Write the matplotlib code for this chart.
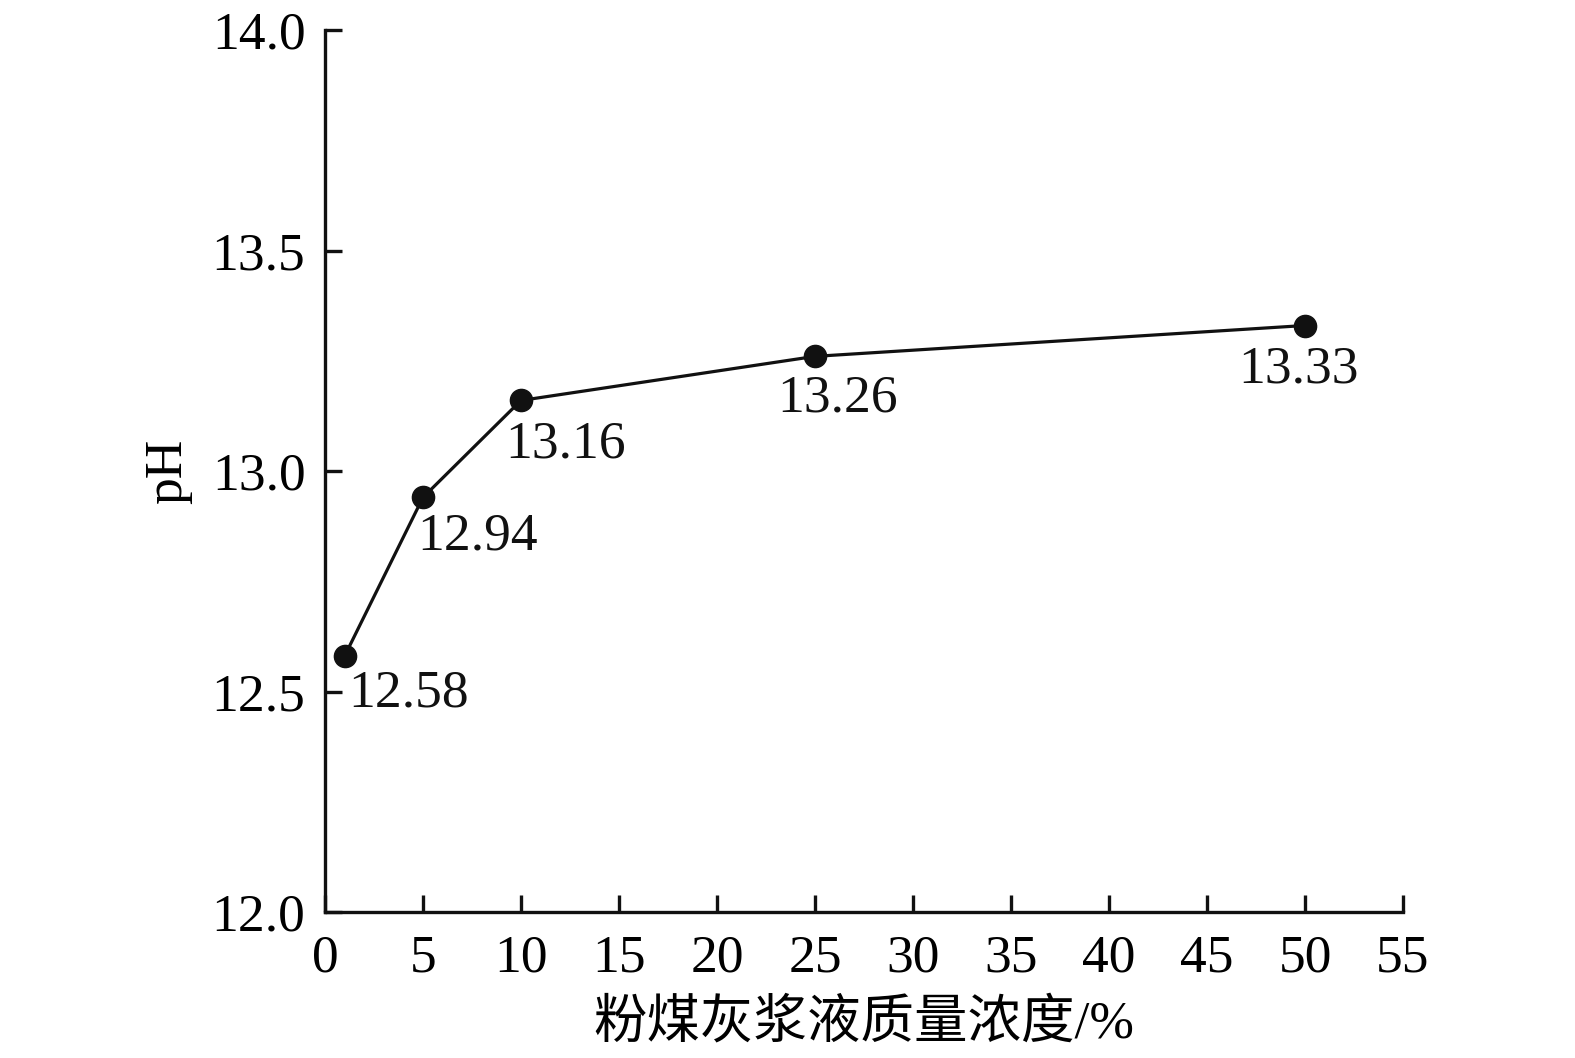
import matplotlib
matplotlib.use("Agg")
import matplotlib.pyplot as plt

# 粉煤灰浆液质量浓度 (%) vs pH
conc = [1, 5, 10, 25, 50]
ph = [12.58, 12.94, 13.16, 13.26, 13.33]
labels = ["12.58", "12.94", "13.16", "13.26", "13.33"]

xticks = list(range(0, 60, 5))
yticks = [12.0, 12.5, 13.0, 13.5, 14.0]

# label offsets from each point (points)
offsets = [(3, -27), (-4, -28), (-11, -32), (-27, -30), (-48, -32)]

plt.rcParams['font.family'] = ['Liberation Serif', 'Noto Sans CJK SC']
plt.rcParams['font.size'] = 38.5

fig = plt.figure(figsize=(15.75, 10.58), dpi=100)
ax = fig.add_axes([0.2063, 0.138, 0.6845, 0.8336])

ax.plot(conc, ph, "-o", color="#111111", lw=2.3, ms=16, clip_on=False)
for x, y, t, (dx, dy) in zip(conc, ph, labels, offsets):
    ax.annotate(t, (x, y), xytext=(dx, dy), textcoords="offset points",
                ha="left", va="center", color="#111111")

ax.set_xlim(0, 55)
ax.set_ylim(12.0, 14.0)
ax.set_xticks(xticks)
ax.set_yticks(yticks)
ax.set_yticklabels([f"{v:.1f}" for v in yticks])
ax.spines["top"].set_visible(False)
ax.spines["right"].set_visible(False)
for s in ("left", "bottom"):
    ax.spines[s].set_linewidth(2.4)
    ax.spines[s].set_color("#111111")
ax.tick_params(direction="in", length=12, width=2.4, color="#111111")
ax.tick_params(axis="x", pad=16)
ax.tick_params(axis="y", pad=14)

ax.set_xlabel("粉煤灰浆液质量浓度/%", labelpad=12)
ax.set_ylabel("pH", labelpad=14)

fig.savefig("out.png", dpi=100)
